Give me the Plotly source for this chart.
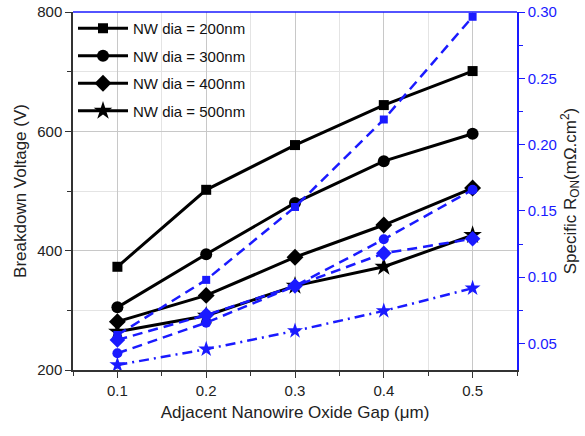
import plotly.graph_objects as go

gap = [0.1, 0.2, 0.3, 0.4, 0.5]
names = ["NW dia = 200nm", "NW dia = 300nm", "NW dia = 400nm", "NW dia = 500nm"]
bv_200 = [373, 502, 577, 644, 701]
bv_300 = [305, 394, 480, 550, 596]
bv_400 = [281, 325, 389, 443, 505]
bv_500 = [264, 291, 341, 373, 426]
ron_200 = [0.0564, 0.098, 0.153, 0.219, 0.2965]
ron_300 = [0.0426, 0.0657, 0.0934, 0.1286, 0.166]
ron_400 = [0.0527, 0.0715, 0.0934, 0.118, 0.129]
ron_500 = [0.0338, 0.0457, 0.0595, 0.0746, 0.0917]

bv = [bv_200, bv_300, bv_400, bv_500]
ron = [ron_200, ron_300, ron_400, ron_500]
symbols = ["square", "circle", "diamond", "star"]
bsize = [10, 12, 13, 14]
rsize = [8, 10, 12, 12]
dashes = ["10px,6px", "10px,6px", "10px,6px", "10px,5px,2px,5px"]
BLUE = "#1a1aff"
FONT = "Arial, Liberation Sans, sans-serif"

fig = go.Figure()
for i in range(4):
    fig.add_trace(go.Scatter(
        x=gap, y=bv[i], name=names[i], mode="lines+markers",
        line=dict(color="black", width=3),
        marker=dict(symbol=symbols[i], size=bsize[i], color="black"),
        legendgroup=f"g{i}", yaxis="y"))
for i in range(4):
    fig.add_trace(go.Scatter(
        x=gap, y=ron[i], name=names[i], mode="lines+markers",
        line=dict(color=BLUE, width=2.5, dash=dashes[i]),
        marker=dict(symbol=symbols[i], size=rsize[i], color=BLUE),
        showlegend=False, yaxis="y2"))

fig.update_layout(
    width=585, height=436,
    margin=dict(l=73, r=68, t=12, b=66, autoexpand=False),
    paper_bgcolor="white", plot_bgcolor="white",
    font=dict(family=FONT, size=15, color="#222"),
    showlegend=True,
    legend=dict(x=0.0, y=1.0, xanchor="left", yanchor="top",
                bgcolor="rgba(0,0,0,0)", font=dict(size=15, color="#111"),
                tracegroupgap=5, itemwidth=50),
    xaxis=dict(range=[0.05, 0.55], tickvals=[0.1, 0.2, 0.3, 0.4, 0.5],
               ticktext=["0.1", "0.2", "0.3", "0.4", "0.5"], automargin=False,
               showline=True, linecolor="#333", linewidth=1.5,
               ticks="outside", ticklen=6, tickcolor="#333",
               showgrid=True, gridcolor="#c8c8c8", gridwidth=1,
               minor=dict(dtick=0.05, tick0=0.05, ticks="outside", ticklen=4,
                          tickcolor="#333", showgrid=True, gridcolor="#e4e4e4"),
               zeroline=False,
               title=dict(text="Adjacent Nanowire Oxide Gap (\u03bcm)",
                          font=dict(size=17, color="#222"), standoff=8)),
    yaxis=dict(range=[200, 800], tickvals=[200, 400, 600, 800], automargin=False,
               ticklabeloverflow="allow",
               showline=True, linecolor="#333", linewidth=1.5,
               ticks="outside", ticklen=6, tickcolor="#333",
               showgrid=True, gridcolor="#c8c8c8", gridwidth=1,
               minor=dict(dtick=100, tick0=0, ticks="outside", ticklen=4,
                          tickcolor="#333", showgrid=True, gridcolor="#e4e4e4"),
               zeroline=False,
               title=dict(text="Breakdown Voltage (V)",
                          font=dict(size=17, color="#222"), standoff=6)),
    yaxis2=dict(range=[0.03, 0.3001], overlaying="y", side="right", automargin=False,
                ticklabeloverflow="allow",
                tickvals=[0.05, 0.10, 0.15, 0.20, 0.25, 0.30], tickformat=".2f",
                showline=True, linecolor=BLUE, linewidth=1.5,
                ticks="outside", ticklen=6, tickcolor=BLUE,
                tickfont=dict(color=BLUE, size=15),
                minor=dict(dtick=0.05, tick0=0.025, ticks="outside", ticklen=4,
                           tickcolor=BLUE, showgrid=False),
                showgrid=False, zeroline=False,
                title=dict(text="Specific R<sub>ON</sub>(m\u03a9.cm<sup>2</sup>)",
                           font=dict(size=17, color="#222"), standoff=8)),
    shapes=[dict(type="line", xref="paper", yref="paper", x0=0, x1=1, y0=1, y1=1,
                 line=dict(color=BLUE, width=1.5))],
)

fig.write_html("out.html", config={"displayModeBar": False},
               post_script="document.body.style.margin='0';document.body.style.overflow='hidden';")
